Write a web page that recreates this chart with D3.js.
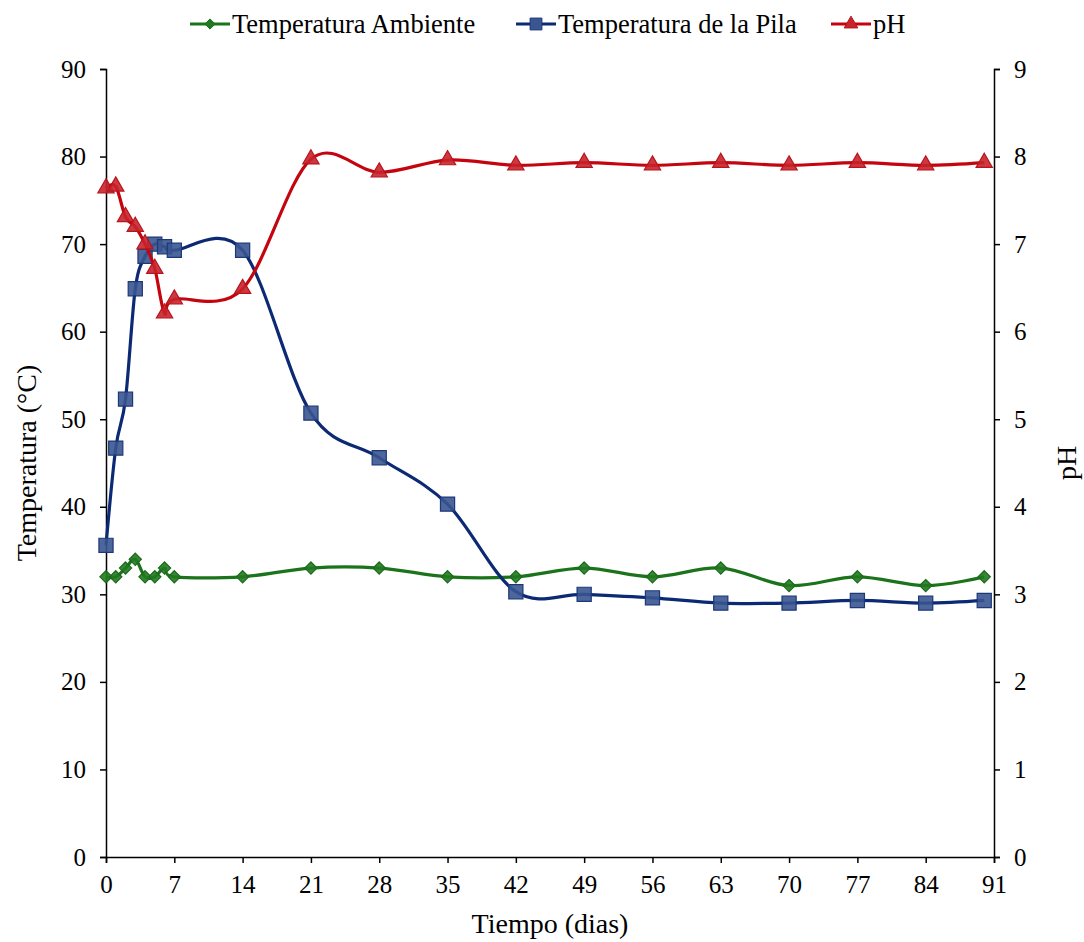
<!DOCTYPE html>
<html lang="es">
<head>
<meta charset="utf-8">
<title>Temperatura y pH</title>
<script src="https://cdn.jsdelivr.net/npm/d3@7"></script>
<style>
  html, body { margin: 0; background: #fff; }
  text { font-family: "Liberation Serif", "Times New Roman", serif; fill: #000; }
</style>
</head>
<body>
<script>
var dias = [0, 1, 2, 3, 4, 5, 6, 7, 14, 21, 28, 35, 42, 49, 56, 63, 70, 77, 84, 90];
var tempAmbiente = [32, 32, 33, 34, 32, 32, 33, 32, 32, 33, 33, 32, 32, 33, 32, 33, 31, 32, 31, 32];
var tempPila = [35.6, 46.7, 52.3, 64.9, 68.6, 70.0, 69.7, 69.3, 69.3, 50.7, 45.6, 40.3, 30.3, 30.0, 29.6, 29.0, 29.0, 29.3, 29.0, 29.3];
var ph = [7.64, 7.66, 7.31, 7.2, 7.0, 6.72, 6.21, 6.37, 6.49, 7.97, 7.82, 7.96, 7.9, 7.93, 7.9, 7.93, 7.9, 7.93, 7.9, 7.93];
var xTicks = [0, 7, 14, 21, 28, 35, 42, 49, 56, 63, 70, 77, 84, 91];
var yTicks = [0, 10, 20, 30, 40, 50, 60, 70, 80, 90];
var phTicks = [0, 1, 2, 3, 4, 5, 6, 7, 8, 9];

var w = 1084, h = 942;
var padLeft = 106, padRight = 994, padTop = 69, padBottom = 857;

var svg = d3.select("body").append("svg")
  .attr("width", w).attr("height", h);

var x = d3.scaleLinear().domain([0, 91]).range([padLeft, padRight]);
var y = d3.scaleLinear().domain([0, 90]).range([padBottom, padTop]);
var yPh = d3.scaleLinear().domain([0, 9]).range([padBottom, padTop]);

// axes
var xAxis = d3.axisBottom(x).tickValues(xTicks).tickSize(6).tickPadding(12);
var yAxis = d3.axisLeft(y).tickValues(yTicks).tickSize(6).tickPadding(14);
var yAxisR = d3.axisRight(yPh).tickValues(phTicks).tickSize(6).tickPadding(14);

function styleAxis(g) {
  g.select(".domain").attr("stroke", "#000").attr("stroke-width", 1.5);
  g.selectAll(".tick line").attr("stroke", "#000").attr("stroke-width", 1.5);
  g.selectAll(".tick text").style("font-size", "25px").attr("fill", "#000")
    .style("font-family", "'Liberation Serif', 'Times New Roman', serif");
}

svg.append("g").attr("transform", "translate(0," + padBottom + ")")
  .call(xAxis).call(styleAxis);
svg.append("g").attr("transform", "translate(" + padLeft + ",0)")
  .call(yAxis).call(styleAxis);
svg.append("g").attr("transform", "translate(" + padRight + ",0)")
  .call(yAxisR).call(styleAxis);

// axis titles
svg.append("text")
  .attr("x", (padLeft + padRight) / 2).attr("y", 933)
  .attr("text-anchor", "middle").style("font-size", "28px")
  .text("Tiempo (dias)");

svg.append("text")
  .attr("transform", "translate(36," + ((padTop + padBottom) / 2) + ") rotate(-90)")
  .attr("text-anchor", "middle").style("font-size", "28px")
  .text("Temperatura (°C)");

svg.append("text")
  .attr("transform", "translate(1076," + ((padTop + padBottom) / 2) + ") rotate(-90)")
  .attr("text-anchor", "middle").style("font-size", "28px")
  .text("pH");

var curve = d3.curveCatmullRom.alpha(0);

var series = [
  { name: "Temperatura Ambiente", values: tempAmbiente, scale: y,
    line: "#1b741b", fill: "#217a21", stroke: "#1b6a1b", shape: d3.symbolDiamond2, size: 95 },
  { name: "Temperatura de la Pila", values: tempPila, scale: y,
    line: "#0c2a74", fill: "#3a5590", stroke: "#1c3878", shape: d3.symbolSquare, size: 200 },
  { name: "pH", values: ph, scale: yPh,
    line: "#c4040e", fill: "#c8242c", stroke: "#b8141c", shape: d3.symbolTriangle, size: 115 }
];

series.forEach(function(s) {
  var g = svg.append("g");
  var line = d3.line()
    .x(function(d, i) { return x(dias[i]); })
    .y(function(d) { return s.scale(d); })
    .curve(curve);

  g.append("path")
    .datum(s.values)
    .attr("d", line)
    .attr("fill", "none")
    .attr("stroke", s.line)
    .attr("stroke-width", 3.2);

  g.selectAll("path.mark")
    .data(s.values)
    .enter()
    .append("path")
    .attr("class", "mark")
    .attr("d", d3.symbol().type(s.shape).size(s.size))
    .attr("transform", function(d, i) {
      return "translate(" + x(dias[i]) + "," + s.scale(d) + ")";
    })
    .attr("fill", s.fill)
    .attr("fill-opacity", 0.9)
    .attr("stroke", s.stroke)
    .attr("stroke-width", 1.2);
});

// legend
var legendX = [190, 516, 831];
series.forEach(function(s, i) {
  var lg = svg.append("g").attr("transform", "translate(" + legendX[i] + ",24)");
  lg.append("line")
    .attr("x1", 0).attr("x2", 40).attr("y1", 0).attr("y2", 0)
    .attr("stroke", s.line).attr("stroke-width", 3.2);
  lg.append("path")
    .attr("d", d3.symbol().type(s.shape).size(s.size * 0.7))
    .attr("transform", "translate(20,0)")
    .attr("fill", s.fill).attr("stroke", s.stroke).attr("stroke-width", 1);
  lg.append("text")
    .attr("x", 42).attr("y", 9)
    .style("font-size", "26.5px")
    .text(s.name);
});
</script>
</body>
</html>
